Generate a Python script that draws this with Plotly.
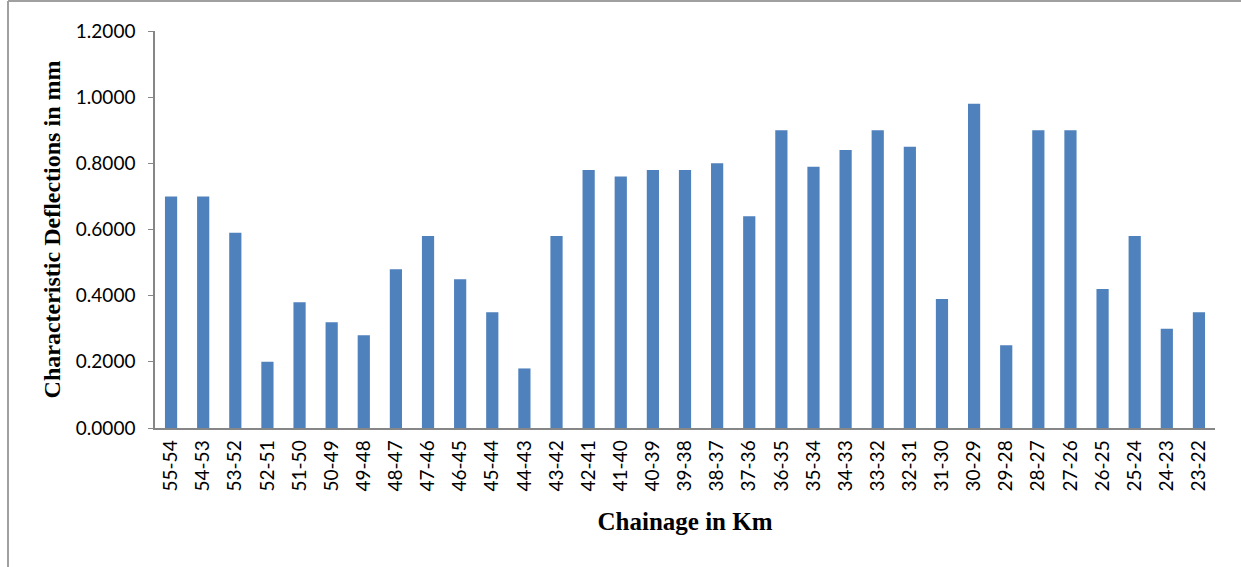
import plotly.graph_objects as go

# Chainage sections (km) and characteristic deflection per section (mm)
chainage = ["55-54", "54-53", "53-52", "52-51", "51-50", "50-49", "49-48", "48-47",
            "47-46", "46-45", "45-44", "44-43", "43-42", "42-41", "41-40", "40-39",
            "39-38", "38-37", "37-36", "36-35", "35-34", "34-33", "33-32", "32-31",
            "31-30", "30-29", "29-28", "28-27", "27-26", "26-25", "25-24", "24-23",
            "23-22"]
deflection = [0.70, 0.70, 0.59, 0.20, 0.38, 0.32, 0.28, 0.48,
              0.58, 0.45, 0.35, 0.18, 0.58, 0.78, 0.76, 0.78,
              0.78, 0.80, 0.64, 0.90, 0.79, 0.84, 0.90, 0.85,
              0.39, 0.98, 0.25, 0.90, 0.90, 0.42, 0.58, 0.30,
              0.35]
y_ticks = [0.0, 0.2, 0.4, 0.6, 0.8, 1.0, 1.2]

AXIS_GREY = "#868686"
TICK_FONT = dict(family="Lato, 'Open Sans', sans-serif", size=19, color="#000000")
Y_TITLE_FONT = dict(family="'Liberation Serif', 'Times New Roman', serif", size=24, color="#000000")
X_TITLE_FONT = dict(family="'Liberation Serif', 'Times New Roman', serif", size=25, color="#000000")

fig = go.Figure(
    go.Bar(
        x=chainage,
        y=deflection,
        marker=dict(color="#4F81BD", line=dict(width=0)),
        hoverinfo="x+y",
    )
)

fig.update_layout(
    width=1241,
    height=567,
    margin=dict(l=155, r=26, t=31, b=139),
    paper_bgcolor="white",
    plot_bgcolor="white",
    bargap=0.62,
    showlegend=False,
    xaxis=dict(
        type="category",
        tickangle=-90,
        tickfont=TICK_FONT,
        showgrid=False,
        showline=True,
        linecolor=AXIS_GREY,
        linewidth=1.5,
        ticks="",
        ticklabelstandoff=3,
        title=dict(text="<b>Chainage in Km</b>", font=X_TITLE_FONT, standoff=22),
    ),
    yaxis=dict(
        range=[0, 1.2],
        tickvals=y_ticks,
        tickformat=".4f",
        tickfont=TICK_FONT,
        showgrid=False,
        zeroline=False,
        showline=True,
        linecolor=AXIS_GREY,
        linewidth=1.5,
        ticks="outside",
        ticklen=5,
        tickcolor=AXIS_GREY,
        ticklabelstandoff=9,
        title=dict(text="<b>Characteristic Deflections in mm</b>", font=Y_TITLE_FONT, standoff=8),
    ),
)

# Frame around the chart area (top and left edges)
fig.add_shape(type="line", xref="paper", yref="paper",
              x0=-147 / 1060, x1=1.03, y0=1 + 30 / 398, y1=1 + 30 / 398,
              line=dict(color="#A0A0A0", width=2))
fig.add_shape(type="line", xref="paper", yref="paper",
              x0=-147 / 1060, x1=-147 / 1060, y0=1 + 30 / 398, y1=-140 / 398,
              line=dict(color="#A0A0A0", width=2))

fig.write_html("out.html")
